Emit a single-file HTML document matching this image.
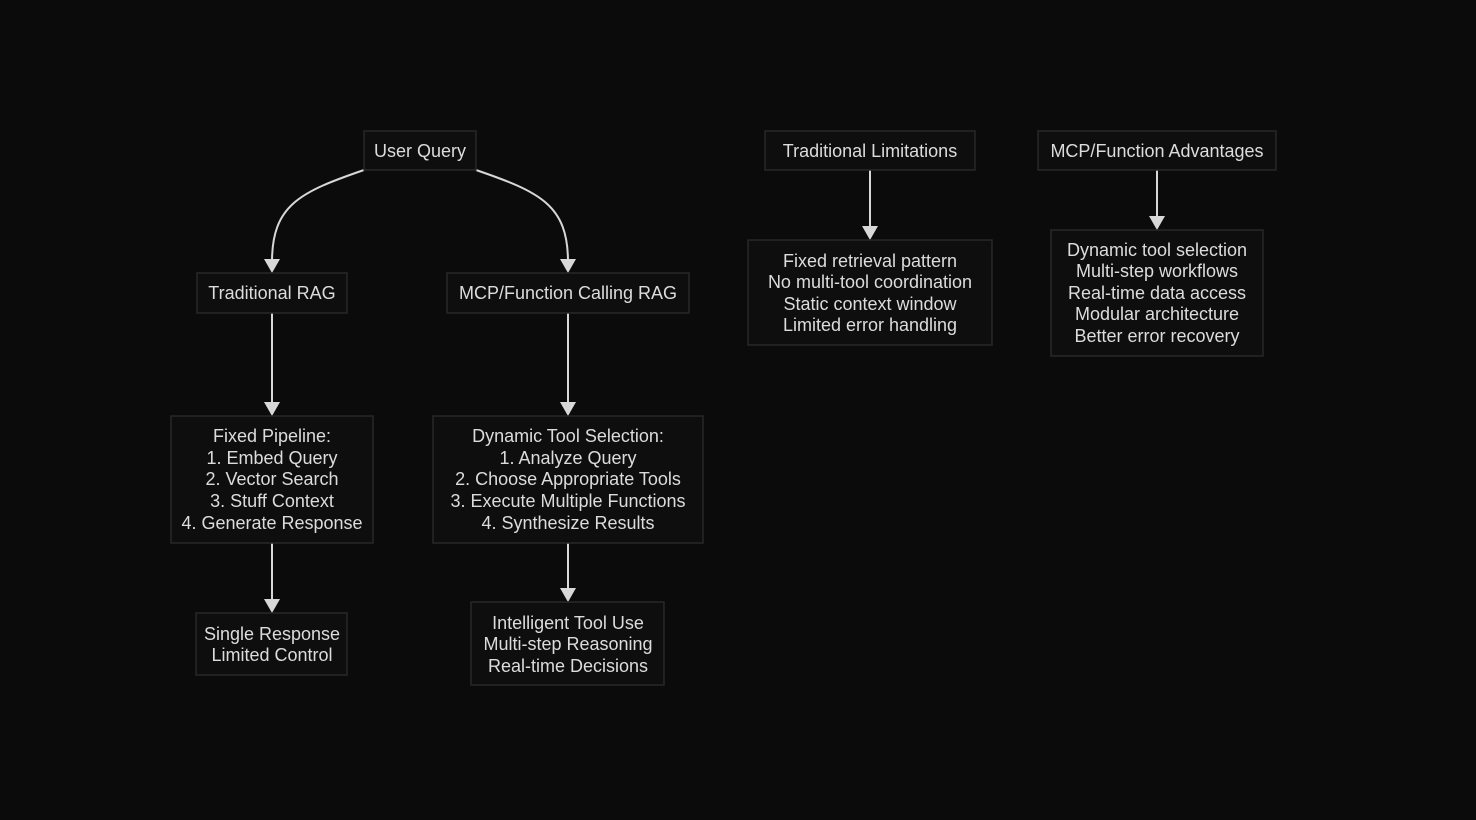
<!DOCTYPE html>
<html><head><style>
html,body{margin:0;padding:0;background:#0b0b0b;}
svg{display:block;}
text{font-family:"Liberation Sans",sans-serif;font-size:18px;fill:#dcdcdc;text-anchor:middle;}
rect{fill:#0e0e0e;stroke:#282828;stroke-width:1.5;}
.l{stroke:#d8d8d8;stroke-width:2;fill:none;}
.a{fill:#d8d8d8;stroke:none;}
</style></head><body>
<svg width="1476" height="820" viewBox="0 0 1476 820">
<rect style="fill:#0b0b0b;stroke:none" x="0" y="0" width="1476" height="820"/>
<path class="l" d="M364,170 C300,192 272,205 272,262"/>
<path class="l" d="M476,170 C540,192 568,205 568,262"/>
<path class="l" d="M272,313 V404"/>
<path class="l" d="M568,313 V404"/>
<path class="l" d="M272,543 V601"/>
<path class="l" d="M568,543 V590"/>
<path class="l" d="M870,170 V228"/>
<path class="l" d="M1157,170 V218"/>
<polygon class="a" points="264,259 280,259 272,273"/>
<polygon class="a" points="560,259 576,259 568,273"/>
<polygon class="a" points="264,402 280,402 272,416"/>
<polygon class="a" points="560,402 576,402 568,416"/>
<polygon class="a" points="264,599 280,599 272,613"/>
<polygon class="a" points="560,588 576,588 568,602"/>
<polygon class="a" points="862,226 878,226 870,240"/>
<polygon class="a" points="1149,216 1165,216 1157,230"/>
<rect x="364" y="131" width="112" height="39"/>
<text x="420" y="157">User Query</text>
<rect x="197" y="273" width="150" height="40"/>
<text x="272" y="299">Traditional RAG</text>
<rect x="447" y="273" width="242" height="40"/>
<text x="568" y="299">MCP/Function Calling RAG</text>
<rect x="171" y="416" width="202" height="127"/>
<text x="272" y="442">Fixed Pipeline:</text>
<text x="272" y="464">1. Embed Query</text>
<text x="272" y="485">2. Vector Search</text>
<text x="272" y="507">3. Stuff Context</text>
<text x="272" y="529">4. Generate Response</text>
<rect x="433" y="416" width="270" height="127"/>
<text x="568" y="442">Dynamic Tool Selection:</text>
<text x="568" y="464">1. Analyze Query</text>
<text x="568" y="485">2. Choose Appropriate Tools</text>
<text x="568" y="507">3. Execute Multiple Functions</text>
<text x="568" y="529">4. Synthesize Results</text>
<rect x="196" y="613" width="151" height="62"/>
<text x="272" y="640">Single Response</text>
<text x="272" y="661">Limited Control</text>
<rect x="471" y="602" width="193" height="83"/>
<text x="568" y="629">Intelligent Tool Use</text>
<text x="568" y="650">Multi-step Reasoning</text>
<text x="568" y="672">Real-time Decisions</text>
<rect x="765" y="131" width="210" height="39"/>
<text x="870" y="157">Traditional Limitations</text>
<rect x="748" y="240" width="244" height="105"/>
<text x="870" y="267">Fixed retrieval pattern</text>
<text x="870" y="288">No multi-tool coordination</text>
<text x="870" y="310">Static context window</text>
<text x="870" y="331">Limited error handling</text>
<rect x="1038" y="131" width="238" height="39"/>
<text x="1157" y="157">MCP/Function Advantages</text>
<rect x="1051" y="230" width="212" height="126"/>
<text x="1157" y="256">Dynamic tool selection</text>
<text x="1157" y="277">Multi-step workflows</text>
<text x="1157" y="299">Real-time data access</text>
<text x="1157" y="320">Modular architecture</text>
<text x="1157" y="342">Better error recovery</text>
</svg>
</body></html>
